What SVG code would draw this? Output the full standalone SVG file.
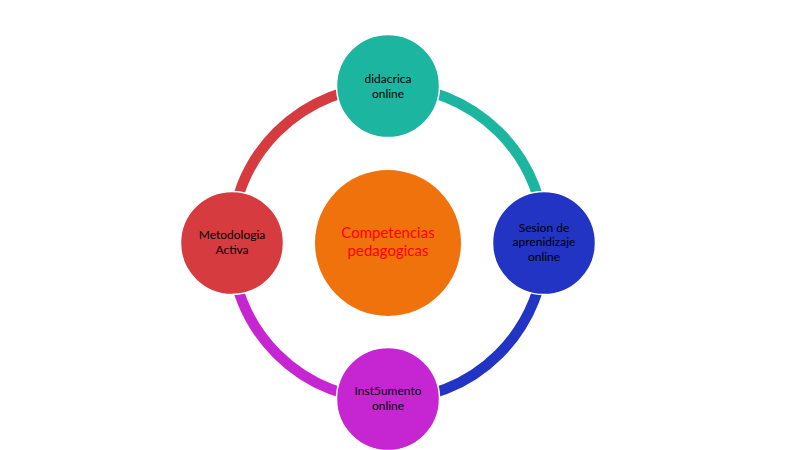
<svg xmlns="http://www.w3.org/2000/svg" width="800" height="450" viewBox="0 0 800 450">
<style>
.arc{fill:none;stroke-width:10.5}
.node{stroke:#fff;stroke-width:1.5}
.lbl{font-family:Lato,"Open Sans","Liberation Sans",sans-serif;font-size:12px;fill:#000;text-anchor:middle}
.ctr{font-family:Lato,"Open Sans","Liberation Sans",sans-serif;font-size:15px;fill:#ff0000;text-anchor:middle}
</style>
<rect width="800" height="450" fill="#fff"/>
<g id="connectors">
<path class="arc" stroke="#1cb5a0" d="M388 86 A157 157 0 0 1 545 243"/>
<path class="arc" stroke="#2234c4" d="M545 243 A157 157 0 0 1 388 400"/>
<path class="arc" stroke="#c526d2" d="M388 400 A157 157 0 0 1 231 243"/>
<path class="arc" stroke="#d63b40" d="M231 243 A157 157 0 0 1 388 86"/>
</g>
<g id="center">
<circle cx="388" cy="243" r="73" fill="#f0720c"/>
<text class="ctr" x="388" y="238">Competencias</text>
<text class="ctr" x="388" y="256">pedagogicas</text>
</g>
<g id="top">
<circle class="node" cx="388" cy="86" r="51.5" fill="#1cb5a0"/>
<text class="lbl" x="388" y="83">didacrica</text>
<text class="lbl" x="388" y="97.5">online</text>
</g>
<g id="right">
<circle class="node" cx="544" cy="243" r="51.5" fill="#2234c4"/>
<text class="lbl" x="544" y="231.5">Sesion de</text>
<text class="lbl" x="544" y="246">aprenidizaje</text>
<text class="lbl" x="544" y="260.5">online</text>
</g>
<g id="bottom">
<circle class="node" cx="388" cy="399" r="51.5" fill="#c526d2"/>
<text class="lbl" x="388" y="395">Inst5umento</text>
<text class="lbl" x="388" y="409.5">online</text>
</g>
<g id="left">
<circle class="node" cx="232" cy="243" r="51.5" fill="#d63b40"/>
<text class="lbl" x="232" y="239">Metodologia</text>
<text class="lbl" x="232" y="253.5">Activa</text>
</g>
</svg>
